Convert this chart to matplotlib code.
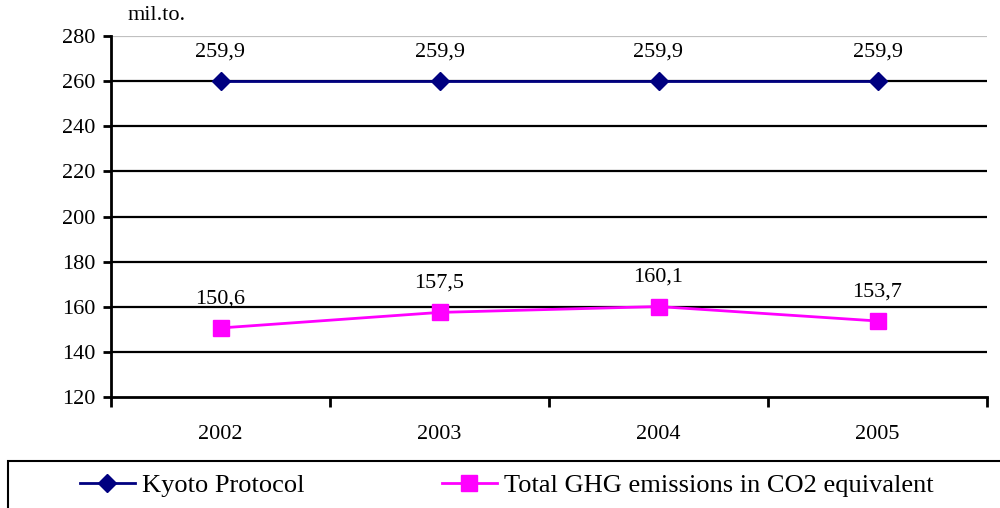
import matplotlib.pyplot as plt
from matplotlib.patches import Rectangle
import numpy as np

years = ['2002', '2003', '2004', '2005']
kyoto = [259.9, 259.9, 259.9, 259.9]
ghg = [150.6, 157.5, 160.1, 153.7]
kyoto_labels = ['259,9', '259,9', '259,9', '259,9']
ghg_labels = ['150,6', '157,5', '160,1', '153,7']
y_ticks = [120, 140, 160, 180, 200, 220, 240, 260, 280]


def main():
    plt.rcParams['font.family'] = ['Liberation Serif', 'DejaVu Serif']

    fig = plt.figure(figsize=(10, 5.08), dpi=100)
    ax = fig.add_axes([0.111, 0.2185, 0.876, 0.7105])

    x = np.arange(len(years))

    # gridlines: top one is light grey, others black
    for val in y_ticks[1:]:
        color = '#c0c0c0' if val == 280 else 'black'
        ax.axhline(val, color=color, linewidth=1.6, zorder=1)

    k_line, = ax.plot(x, kyoto, color='#000080', linewidth=2, marker='D',
                      markersize=9, zorder=3, label='Kyoto Protocol')
    g_line, = ax.plot(x, ghg, color='#ff00ff', linewidth=2, marker='s',
                      markersize=11, zorder=3,
                      label='Total GHG emissions in CO2 equivalent')

    for xi, v, lab in zip(x, kyoto, kyoto_labels):
        ax.annotate(lab, (xi, v), xytext=(0, 21), textcoords='offset points',
                    ha='center', va='center', fontsize=16)
    for xi, v, lab in zip(x, ghg, ghg_labels):
        ax.annotate(lab, (xi, v), xytext=(0, 21), textcoords='offset points',
                    ha='center', va='center', fontsize=16)

    ax.set_ylim(120, 280)
    ax.set_xlim(-0.5, len(years) - 0.5)
    ax.set_yticks(y_ticks)
    ax.tick_params(axis='y', labelsize=16, length=6, width=2, pad=5)

    # category boundaries as major ticks, labels on minor ticks
    ax.set_xticks(np.arange(-0.5, len(years), 1.0))
    ax.set_xticklabels([])
    ax.set_xticks(x, minor=True)
    ax.set_xticklabels(years, minor=True)
    ax.tick_params(axis='x', which='major', length=7, width=2, direction='out')
    ax.tick_params(axis='x', which='minor', length=0, labelsize=16, pad=20)

    for side in ['top', 'right']:
        ax.spines[side].set_visible(False)
    ax.spines['left'].set_linewidth(2)
    ax.spines['bottom'].set_linewidth(2)
    ax.spines['bottom'].set_zorder(4)

    fig.text(0.157, 0.97, 'mil.to.', ha='center', va='center', fontsize=16)

    # legend box runs off the right and bottom of the image
    fig.patches.append(Rectangle((0.008, -0.05), 1.1, 0.1425,
                                 transform=fig.transFigure, fill=False,
                                 edgecolor='black', linewidth=1.5))
    fig.legend(handles=[k_line, g_line], loc='center left',
               bbox_to_anchor=(0.08, 0.045), ncol=2, frameon=False,
               fontsize=19, handlelength=2.08, handletextpad=0.27,
               columnspacing=5.2, borderaxespad=0, borderpad=0)

    fig.savefig('out.png', dpi=100)


if __name__ == "__main__":
    main()
